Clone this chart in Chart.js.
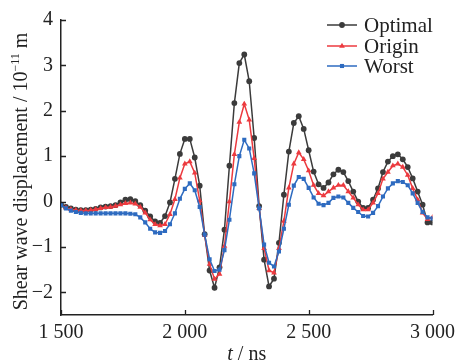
<!DOCTYPE html>
<html>
<head>
<meta charset="utf-8">
<script src="https://cdn.jsdelivr.net/npm/chart.js@4/dist/chart.umd.min.js"></script>
<style>
  html, body { margin: 0; padding: 0; background: #fff; }
  canvas { display: block; }
</style>
</head>
<body>
<canvas id="waveChart" width="461" height="363"></canvas>
<script>
// sample times (ns)
const times = [
  1500, 1520, 1540, 1560, 1580, 1600, 1620, 1640, 1660, 1680,
  1700, 1720, 1740, 1760, 1780, 1800, 1820, 1840, 1860, 1880,
  1900, 1920, 1940, 1960, 1980, 2000, 2020, 2040, 2060, 2080,
  2100, 2120, 2140, 2160, 2180, 2200, 2220, 2240, 2260, 2280,
  2300, 2320, 2340, 2360, 2380, 2400, 2420, 2440, 2460, 2480,
  2500, 2520, 2540, 2560, 2580, 2600, 2620, 2640, 2660, 2680,
  2700, 2720, 2740, 2760, 2780, 2800, 2820, 2840, 2860, 2880,
  2900, 2920, 2940, 2960, 2980, 3000
];

// displacement, 1e-11 m
const optimal = [
  -0.07, -0.12, -0.15, -0.18, -0.19, -0.19, -0.18, -0.16, -0.13, -0.11,
  -0.10, -0.08, -0.02, 0.04, 0.05, 0.01, -0.08, -0.20, -0.33, -0.44,
  -0.47, -0.32, -0.02, 0.50, 1.05, 1.38, 1.38, 0.97, 0.35, -0.72,
  -1.52, -1.90, -1.45, -0.62, 0.79, 2.17, 3.05, 3.24, 2.65, 1.40,
  -0.10, -1.28, -1.87, -1.70, -0.91, 0.15, 1.10, 1.73, 1.88, 1.60,
  1.13, 0.66, 0.38, 0.30, 0.42, 0.60, 0.70, 0.65, 0.45, 0.22,
  0.00, -0.14, -0.14, 0.04, 0.29, 0.65, 0.88, 1.00, 1.04, 0.93,
  0.76, 0.51, 0.22, -0.07, -0.46, -0.46
];
const origin = [
  -0.08, -0.14, -0.17, -0.19, -0.20, -0.20, -0.19, -0.17, -0.15, -0.13,
  -0.12, -0.10, -0.07, -0.04, -0.03, -0.05, -0.12, -0.25, -0.40, -0.50,
  -0.53, -0.50, -0.28, 0.05, 0.52, 0.83, 0.88, 0.63, 0.02, -0.74,
  -1.38, -1.71, -1.60, -0.98, 0.00, 1.04, 1.75, 2.15, 1.80, 0.95,
  -0.15, -1.03, -1.52, -1.57, -1.03, -0.43, 0.30, 0.83, 1.08, 0.93,
  0.68, 0.36, 0.18, 0.13, 0.22, 0.30, 0.36, 0.36, 0.22, 0.08,
  -0.07, -0.18, -0.18, -0.03, 0.18, 0.50, 0.65, 0.79, 0.83, 0.76,
  0.58, 0.29, 0.04, -0.25, -0.39, -0.35
];
const worst = [
  -0.08, -0.15, -0.20, -0.23, -0.25, -0.26, -0.26, -0.26, -0.26, -0.26,
  -0.26, -0.26, -0.26, -0.26, -0.27, -0.28, -0.35, -0.46, -0.60, -0.68,
  -0.69, -0.65, -0.50, -0.26, 0.06, 0.28, 0.40, 0.25, -0.12, -0.73,
  -1.27, -1.53, -1.50, -1.07, -0.40, 0.38, 1.00, 1.36, 1.17, 0.62,
  -0.15, -0.95, -1.35, -1.43, -1.10, -0.60, -0.07, 0.35, 0.54, 0.50,
  0.30, 0.09, -0.05, -0.08, -0.03, 0.08, 0.11, 0.09, -0.03, -0.14,
  -0.23, -0.32, -0.33, -0.25, -0.10, 0.11, 0.29, 0.40, 0.45, 0.43,
  0.36, 0.18, -0.03, -0.23, -0.35, -0.37
];

const xTicks = [1500, 2000, 2500, 3000];
const yTicks = [-2, -1, 0, 1, 2, 3, 4];

const FONT = '"Liberation Serif", "Times New Roman", serif';
const INK = '#222';

function series(label, values, color, shape, radius, order) {
  return {
    label,
    data: times.map((t, i) => ({ x: t, y: values[i] })),
    borderColor: color,
    backgroundColor: color,
    borderWidth: 1.5,
    pointStyle: shape,
    pointRadius: radius,
    pointBorderWidth: 0,
    tension: 0,
    order
  };
}

// inward ticks, axis titles and the in-plot legend
const decor = {
  id: 'decor',
  afterDraw(chart) {
    const { ctx, chartArea: a, scales: { x, y } } = chart;
    ctx.save();
    ctx.strokeStyle = INK;
    ctx.lineWidth = 1.3;
    ctx.beginPath();
    xTicks.forEach(v => {
      const px = Math.round(x.getPixelForValue(v)) + 0.5;
      ctx.moveTo(px, a.bottom);
      ctx.lineTo(px, a.bottom - 5);
    });
    yTicks.forEach(v => {
      const py = Math.round(y.getPixelForValue(v)) + 0.5;
      ctx.moveTo(a.left, py);
      ctx.lineTo(a.left + 5, py);
    });
    ctx.stroke();

    ctx.fillStyle = INK;
    ctx.textBaseline = 'alphabetic';

    // x title: italic t
    const xc = (a.left + a.right) / 2;
    ctx.font = 'italic 20px ' + FONT;
    const tW = ctx.measureText('t').width;
    ctx.font = '20px ' + FONT;
    const restW = ctx.measureText(' / ns').width;
    const sx = xc - (tW + restW) / 2;
    ctx.font = 'italic 20px ' + FONT;
    ctx.fillText('t', sx, 360);
    ctx.font = '20px ' + FONT;
    ctx.fillText(' / ns', sx + tW, 360);

    // y title with superscript exponent
    const main = 'Shear wave displacement / 10';
    const sup = '\u221211';
    const tail = ' m';
    ctx.font = '20px ' + FONT;
    const mW = ctx.measureText(main).width;
    const tailW = ctx.measureText(tail).width;
    ctx.font = '12px ' + FONT;
    const sW = ctx.measureText(sup).width;
    const total = mW + sW + tailW;
    ctx.translate(27, (a.top + a.bottom) / 2 + 4);
    ctx.rotate(-Math.PI / 2);
    let p = -total / 2;
    ctx.font = '20px ' + FONT;
    ctx.fillText(main, p, 0);
    p += mW;
    ctx.font = '12px ' + FONT;
    ctx.fillText(sup, p, -8);
    p += sW;
    ctx.font = '20px ' + FONT;
    ctx.fillText(tail, p, 0);
    ctx.setTransform(1, 0, 0, 1, 0, 0);

    // legend
    const rows = [25, 46, 66];
    chart.data.datasets.forEach((ds, i) => {
      const ry = rows[i];
      ctx.strokeStyle = ds.borderColor;
      ctx.lineWidth = 1.5;
      ctx.beginPath();
      ctx.moveTo(327, ry);
      ctx.lineTo(357, ry);
      ctx.stroke();
      ctx.fillStyle = ds.backgroundColor;
      Chart.helpers.drawPoint(ctx, {
        pointStyle: ds.pointStyle,
        radius: ds.pointRadius,
        borderWidth: 0
      }, 342, ry);
      ctx.fillStyle = INK;
      ctx.font = '21px ' + FONT;
      ctx.textBaseline = 'middle';
      ctx.fillText(ds.label, 364, ry + 1);
    });
    ctx.restore();
  }
};

new Chart(document.getElementById('waveChart'), {
  type: 'line',
  data: {
    datasets: [
      series('Optimal', optimal, '#3b3b3b', 'circle', 2.9, 3),
      series('Origin', origin, '#ec3a3f', 'triangle', 3.3, 2),
      series('Worst', worst, '#2e6bc0', 'rect', 2.9, 1)
    ]
  },
  options: {
    responsive: false,
    animation: false,
    layout: { padding: { top: 12, right: 21, left: 0, bottom: 0 } },
    plugins: { legend: { display: false }, tooltip: { enabled: false } },
    scales: {
      x: {
        type: 'linear',
        min: 1500,
        max: 3000,
        afterBuildTicks: s => { s.ticks = xTicks.map(v => ({ value: v })); },
        afterFit: s => { s.height = 48; },
        grid: { drawOnChartArea: false, drawTicks: false },
        border: { display: true, color: INK, width: 1.5 },
        ticks: {
          padding: 6,
          color: INK,
          maxRotation: 0,
          font: { family: FONT, size: 20 },
          callback: v => String(v).replace(/\B(?=(\d{3})+(?!\d))/g, ' ')
        }
      },
      y: {
        min: -2.5,
        max: 4,
        afterBuildTicks: s => { s.ticks = yTicks.map(v => ({ value: v })); },
        afterFit: s => { s.width = 61; },
        grid: { drawOnChartArea: false, drawTicks: false },
        border: { display: true, color: INK, width: 1.5 },
        ticks: {
          padding: 8,
          color: INK,
          font: { family: FONT, size: 20 },
          callback: v => (v < 0 ? '\u2212' + Math.abs(v) : String(v))
        }
      }
    }
  },
  plugins: [decor]
});
</script>
</body>
</html>
